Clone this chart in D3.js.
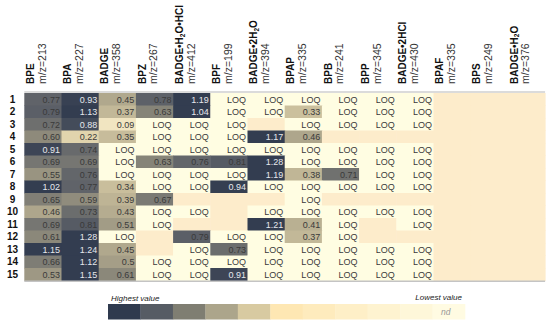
<!DOCTYPE html>
<html>
<head>
<meta charset="utf-8">
<script src="https://cdn.jsdelivr.net/npm/d3@7"></script>
<style>
  body { margin: 0; background: #fff; }
  svg text { font-family: Arial, "Liberation Sans", sans-serif; }
</style>
</head>
<body>
<div id="chart"></div>
<script>
// compounds (columns) and their m/z
const compounds = ['BPE', 'BPA', 'BADGE', 'BPZ', 'BADGE•H2O•HCl', 'BPF', 'BADGE•2H2O',
  'BPAP', 'BPB', 'BPP', 'BADGE•2HCl', 'BPAF', 'BPS', 'BADGE•H2O'];
const mz = [213, 227, 358, 267, 412, 199, 394, 335, 241, 345, 430, 335, 249, 376];
const samples = d3.range(1, 16).map(String);

// values per sample as printed, LOQ = below limit of quantification, null = nd
const values = [
  ['0.77', '0.93', '0.45', '0.78', '1.19', 'LOQ', 'LOQ', 'LOQ', 'LOQ', 'LOQ', 'LOQ', null, null, null],
  ['0.79', '1.13', '0.37', '0.63', '1.04', 'LOQ', 'LOQ', '0.33', 'LOQ', 'LOQ', 'LOQ', null, null, null],
  ['0.72', '0.88', '0.09', 'LOQ', 'LOQ', 'LOQ', null, 'LOQ', 'LOQ', 'LOQ', 'LOQ', null, null, null],
  ['0.60', '0.22', '0.35', 'LOQ', 'LOQ', 'LOQ', '1.17', '0.46', null, null, null, null, null, null],
  ['0.91', '0.74', 'LOQ', 'LOQ', 'LOQ', 'LOQ', 'LOQ', 'LOQ', 'LOQ', 'LOQ', 'LOQ', null, null, null],
  ['0.69', '0.69', 'LOQ', '0.63', '0.76', '0.81', '1.28', 'LOQ', 'LOQ', 'LOQ', 'LOQ', null, null, null],
  ['0.55', '0.76', 'LOQ', 'LOQ', 'LOQ', 'LOQ', '1.19', '0.38', '0.71', 'LOQ', 'LOQ', null, null, null],
  ['1.02', '0.77', '0.34', 'LOQ', 'LOQ', '0.94', 'LOQ', 'LOQ', 'LOQ', 'LOQ', 'LOQ', null, null, null],
  ['0.65', '0.59', '0.39', '0.67', null, null, null, 'LOQ', null, null, null, null, null, null],
  ['0.46', '0.73', '0.43', 'LOQ', 'LOQ', null, 'LOQ', 'LOQ', 'LOQ', 'LOQ', 'LOQ', null, null, null],
  ['0.69', '0.81', '0.51', 'LOQ', null, null, '1.21', '0.41', 'LOQ', null, 'LOQ', null, null, null],
  ['0.61', '1.28', 'LOQ', null, '0.79', 'LOQ', 'LOQ', '0.37', 'LOQ', null, null, null, null, null],
  ['1.15', '1.24', '0.45', null, 'LOQ', '0.73', 'LOQ', 'LOQ', 'LOQ', 'LOQ', 'LOQ', null, null, null],
  ['0.66', '1.12', '0.5', 'LOQ', 'LOQ', 'LOQ', 'LOQ', 'LOQ', 'LOQ', 'LOQ', 'LOQ', null, null, null],
  ['0.53', '1.15', '0.61', 'LOQ', 'LOQ', '0.91', 'LOQ', 'LOQ', 'LOQ', 'LOQ', 'LOQ', null, null, null]
];

const legendColors = ['#2f3a4e', '#565c64', '#7f7e72', '#aca58b', '#d8caa1',
  '#fee7b3', '#feebbd', '#feefc7', '#fef3d0', '#fef7d9', '#fffbe2'];

const w = 550, h = 325;
const svg = d3.select('#chart').append('svg')
  .attr('width', w)
  .attr('height', h);

const x = d3.scaleBand().domain(compounds).range([24.3, 24.3 + 14 * 37.2]);
const y = d3.scaleBand().domain(samples).range([93, 280.5]);

const color = d3.scaleLinear()
  .domain([0.1, 0.25, 0.45, 0.62, 0.78, 0.95])
  .range(['#f1e5c1', '#ddd0a8', '#b0a88d', '#898679', '#5d6168', '#333d50'])
  .clamp(true);

const isNum = v => v !== null && v !== 'LOQ';
const fillOf = v => v === null ? '#fdeccb' : (v === 'LOQ' ? '#fffde2' : color(+v));

// cells
const cells = [];
values.forEach((row, i) => row.forEach((v, j) => cells.push({ s: samples[i], c: compounds[j], v: v })));

const cell = svg.selectAll('.cell')
  .data(cells)
  .enter()
  .append('g')
  .attr('class', 'cell')
  .attr('transform', d => 'translate(' + x(d.c) + ',' + y(d.s) + ')');

cell.append('rect')
  .attr('width', x.bandwidth() + 0.5)
  .attr('height', y.bandwidth() + 0.5)
  .attr('fill', d => fillOf(d.v));

cell.filter(d => d.v !== null)
  .append('text')
  .attr('x', x.bandwidth() - 1.5)
  .attr('y', y.bandwidth() / 2 + 3.3)
  .attr('text-anchor', 'end')
  .attr('font-size', '9px')
  .attr('fill', d => (isNum(d.v) && +d.v >= 0.85) ? '#e6e8ec' : '#3a3a3a')
  .text(d => d.v);

// table rules
svg.append('line')
  .attr('x1', x.range()[0]).attr('x2', x.range()[1])
  .attr('y1', 92).attr('y2', 92)
  .attr('stroke', '#cfcfcf').attr('stroke-width', 1.5);
svg.append('line')
  .attr('x1', x.range()[0]).attr('x2', x.range()[1])
  .attr('y1', 281.3).attr('y2', 281.3)
  .attr('stroke', '#c4c4c4').attr('stroke-width', 1.5);

// row labels
svg.selectAll('.rowLabel')
  .data(samples)
  .enter()
  .append('text')
  .attr('class', 'rowLabel')
  .attr('x', 12.5)
  .attr('y', d => y(d) + y.bandwidth() / 2 + 3.5)
  .attr('text-anchor', 'middle')
  .attr('font-size', '10px')
  .attr('font-weight', 'bold')
  .attr('fill', '#111')
  .text(d => d);

// column headers, rotated; H2O gets a subscript 2
const head = svg.selectAll('.colLabel')
  .data(compounds)
  .enter()
  .append('g')
  .attr('class', 'colLabel')
  .attr('transform', d => 'translate(' + x(d) + ',84) rotate(-90)');

const name = head.append('text')
  .attr('x', 0)
  .attr('y', 9.8)
  .attr('font-size', '10px')
  .attr('font-weight', 'bold')
  .attr('fill', '#111');

name.each(function (d) {
  const t = d3.select(this);
  d.split(/(H2O)/).forEach(part => {
    if (part === 'H2O') {
      t.append('tspan').text('H');
      t.append('tspan').attr('font-size', '6.5px').attr('dy', 1.8).text('2');
      t.append('tspan').attr('dy', -1.8).text('O');
    } else if (part) {
      t.append('tspan').text(part);
    }
  });
});

head.append('text')
  .attr('x', 0)
  .attr('y', 21.5)
  .attr('font-size', '10.5px')
  .attr('fill', '#333')
  .text((d, i) => 'm/z=' + mz[i]);

// legend
const lx = d3.scaleBand().domain(d3.range(legendColors.length)).range([108, 465]);

svg.selectAll('.legendBox')
  .data(legendColors)
  .enter()
  .append('rect')
  .attr('class', 'legendBox')
  .attr('x', (d, i) => lx(i))
  .attr('y', 304)
  .attr('width', lx.bandwidth() + 0.3)
  .attr('height', 15.5)
  .attr('fill', d => d);

svg.append('text')
  .attr('x', 111)
  .attr('y', 300.5)
  .attr('font-size', '8px')
  .attr('font-style', 'italic')
  .attr('fill', '#222')
  .text('Highest value');

svg.append('text')
  .attr('x', 462)
  .attr('y', 299.5)
  .attr('text-anchor', 'end')
  .attr('font-size', '8px')
  .attr('font-style', 'italic')
  .attr('fill', '#222')
  .text('Lowest value');

svg.append('text')
  .attr('x', lx(10) + lx.bandwidth() / 2 - 3)
  .attr('y', 315)
  .attr('text-anchor', 'middle')
  .attr('font-size', '8.5px')
  .attr('font-style', 'italic')
  .attr('fill', '#999')
  .text('nd');
</script>
</body>
</html>
